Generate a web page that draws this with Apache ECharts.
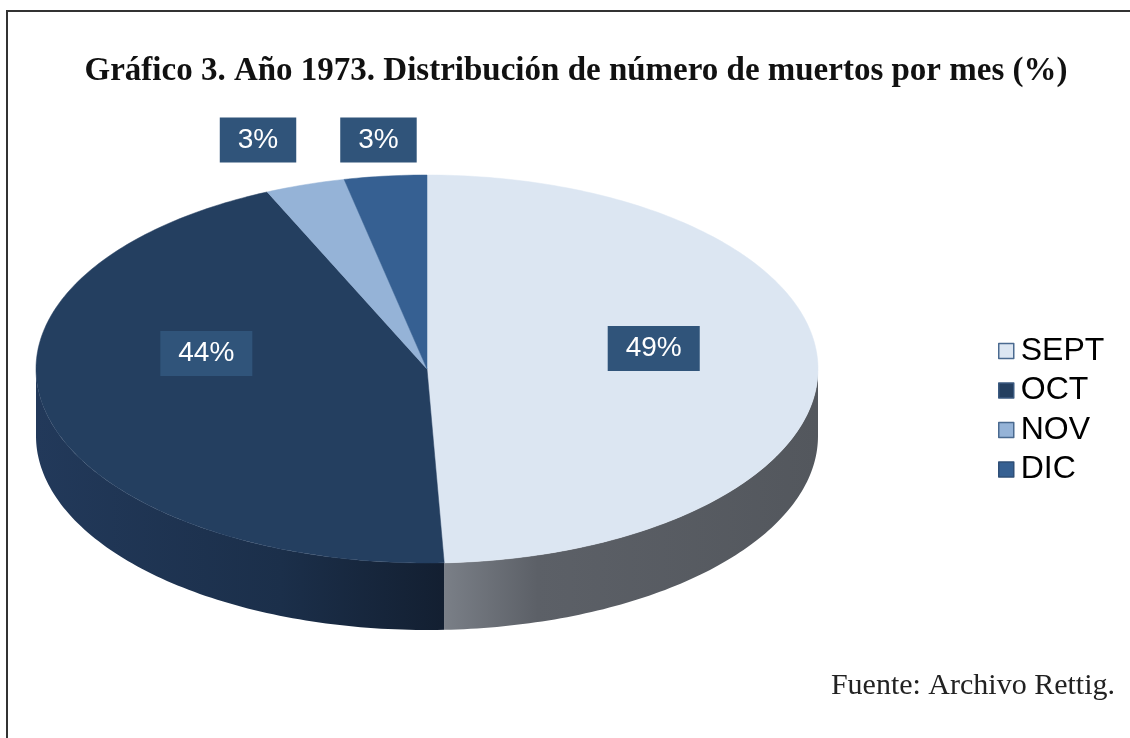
<!DOCTYPE html>
<html><head><meta charset="utf-8">
<script src="https://cdn.jsdelivr.net/npm/echarts@6/dist/echarts.min.js"></script>
<style>html,body{margin:0;padding:0;background:#fff}#c{width:1130px;height:738px}</style>
</head><body><div id="c"></div>
<script>
// ---- data ----
const categories = ['SEPT', 'OCT', 'NOV', 'DIC'];
const values = [49.3, 44.0, 3.3, 3.4];
const titleText = 'Gráfico 3. Año 1973. Distribución de número de muertos por mes (%)';
const sourceText = 'Fuente: Archivo Rettig.';

// ---- style ----
const topColors = ['#dce6f2', '#243f60', '#95b3d7', '#366092'];
const sideColors = [
  ['#7a7f87', '#5c6067', '#53575d'],
  ['#22395a', '#1b2f4a', '#131f31'],
  ['#6d87a6', '#5d7796', '#4e6786'],
  ['#27476e', '#20405f', '#1b3553']
];
const legendBorders = ['#4a6a90', '#3b5a80', '#4a6a90', '#2f4f77'];
const labelBg = '#30547a';

const G = { cx: 427, cy: 369, rx: 391, ry: 194, depth: 67 };
const total = values.reduce((a, b) => a + b, 0);
const starts = [];
values.reduce((acc, v, i) => { starts[i] = acc; return acc + v / total * Math.PI * 2; }, 0);

function pt(t, dy) {
  return [G.cx + G.rx * Math.sin(t), G.cy - G.ry * Math.cos(t) + (dy || 0)];
}
function range(i, v) {
  return [starts[i], starts[i] + v / total * Math.PI * 2];
}

function renderSide(params, api) {
  const i = params.dataIndex;
  const [a0, a1] = range(i, api.value(1));
  const s = Math.max(a0, Math.PI / 2), e = Math.min(a1, Math.PI * 1.5);
  if (e <= s) return { type: 'group', children: [] };
  const n = 90, pts = [];
  for (let k = 0; k <= n; k++) pts.push(pt(s + (e - s) * k / n));
  for (let k = n; k >= 0; k--) pts.push(pt(s + (e - s) * k / n, G.depth));
  const c = sideColors[i];
  return {
    type: 'polygon', shape: { points: pts },
    style: {
      fill: { type: 'linear', x: 0, y: 0, x2: 1, y2: 0,
        colorStops: i === 0
          ? [{ offset: 0, color: c[0] }, { offset: 0.25, color: c[1] }, { offset: 1, color: c[2] }]
          : [{ offset: 0, color: c[0] }, { offset: 0.6, color: c[1] }, { offset: 1, color: c[2] }] },
      stroke: null
    }
  };
}

function renderTop(params, api) {
  const i = params.dataIndex;
  const [a0, a1] = range(i, api.value(1));
  const n = Math.max(8, Math.ceil((a1 - a0) / (Math.PI * 2) * 360));
  const pts = [[G.cx, G.cy]];
  for (let k = 0; k <= n; k++) pts.push(pt(a0 + (a1 - a0) * k / n));
  return {
    type: 'polygon', shape: { points: pts },
    style: { fill: topColors[i], stroke: topColors[i], lineWidth: 0.5 }
  };
}

function renderLabel(params, api) {
  const i = params.dataIndex;
  const v = api.value(1);
  const [a0, a1] = range(i, v);
  const m = (a0 + a1) / 2;
  const pct = Math.round(v / total * 100) + '%';
  let x, y;
  if (v / total > 0.1) {
    x = G.cx + G.rx * 0.58 * Math.sin(m);
    y = G.cy - 20 - G.ry * 0.1 * Math.cos(m);
  } else {
    x = G.cx + 14 + G.rx * 1.5 * Math.sin(m);
    y = G.cy - G.ry - 35;
  }
  return {
    type: 'text', x: x, y: y,
    style: {
      text: pct, fill: '#ffffff', fontSize: 28, fontFamily: 'Liberation Sans, Arial, sans-serif',
      align: 'center', verticalAlign: 'middle',
      backgroundColor: labelBg, padding: [9, 18, 8, 18]
    }
  };
}

const seriesData = values.map((v, i) => [i, v]);

const chart = echarts.init(document.getElementById('c'), null, { renderer: 'canvas' });
chart.setOption({
  backgroundColor: '#ffffff',
  animation: false,
  legend: {
    orient: 'vertical', left: 993, top: 330,
    itemWidth: 15, itemHeight: 15, itemGap: 7.5,
    icon: 'rect',
    textStyle: { fontSize: 32, lineHeight: 32, color: '#000', fontFamily: 'Liberation Sans, Arial, sans-serif', padding: [0, 0, 0, 2] },
    data: categories.map((c, i) => ({ name: c, itemStyle: { color: topColors[i], borderColor: legendBorders[i], borderWidth: 1.5 } }))
  },
  graphic: [
    { type: 'rect', shape: { x: 7, y: 11, width: 1300, height: 900 }, style: { fill: null, stroke: '#333', lineWidth: 2 }, z: 100, silent: true },
    { type: 'text', x: 576, y: 71, style: { text: titleText, fontFamily: 'Liberation Serif, Times New Roman, serif', fontWeight: 'bold', fontSize: 33, fill: '#111', align: 'center', verticalAlign: 'middle' } },
    { type: 'text', x: 1115, y: 686, style: { text: sourceText, fontFamily: 'Liberation Serif, Times New Roman, serif', fontSize: 30, fill: '#222', align: 'right', verticalAlign: 'middle' } }
  ],
  series: [
    { type: 'pie', name: 'legend', radius: [0, 0], center: [-100, -100], silent: true,
      label: { show: false }, labelLine: { show: false },
      data: categories.map((c, i) => ({ name: c, value: values[i], itemStyle: { color: topColors[i] } })) },
    { type: 'custom', name: 'sides', coordinateSystem: 'none', renderItem: renderSide, data: seriesData, z: 2, silent: true },
    { type: 'custom', name: 'tops', coordinateSystem: 'none', renderItem: renderTop, data: seriesData, z: 3, silent: true },
    { type: 'custom', name: 'labels', coordinateSystem: 'none', renderItem: renderLabel, data: seriesData, z: 4, silent: true }
  ]
});
</script>
</body></html>
